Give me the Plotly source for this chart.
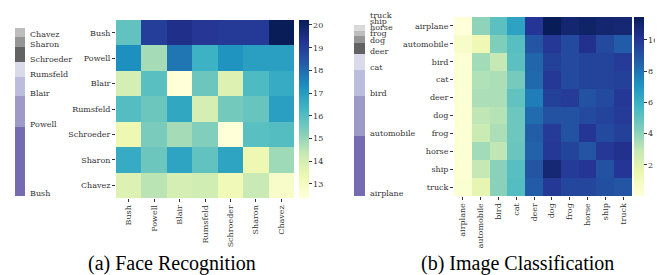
import plotly.graph_objects as go

W, H = 663, 275

# ---------------- data ----------------
face_names = ["Bush", "Powell", "Blair", "Rumsfeld", "Schroeder", "Sharon", "Chavez"]
face_counts = [530, 236, 144, 121, 109, 77, 71]
face_matrix = [
    [15.8, 19.0, 19.4, 19.2, 19.1, 19.1, 20.2],
    [17.3, 14.8, 17.8, 16.4, 17.2, 16.9, 16.9],
    [14.0, 15.9, 12.4, 15.6, 13.8, 16.1, 16.6],
    [16.0, 15.6, 16.7, 14.0, 15.5, 15.7, 16.9],
    [13.3, 15.4, 14.8, 15.3, 12.4, 15.9, 16.0],
    [16.6, 15.6, 16.8, 15.8, 16.8, 13.3, 14.9],
    [13.8, 14.5, 14.0, 14.1, 13.2, 14.3, 12.8],
]
face_zrange = [12.38, 20.22]
face_ticks = [13, 14, 15, 16, 17, 18, 19, 20]

cifar_names = ["airplane", "automobile", "bird", "cat", "deer", "dog", "frog", "horse", "ship", "truck"]
cifar_share = [35.0, 23.4, 15.2, 9.4, 6.4, 4.0, 3.0, 2.5, 0.6, 0.4]
cifar_matrix = [
    [0.0, 4.0, 5.1, 6.5, 10.0, 11.5, 10.9, 11.1, 10.9, 10.8],
    [0.6, 1.3, 4.3, 5.2, 8.9, 9.9, 9.3, 10.2, 9.3, 8.7],
    [0.2, 3.6, 2.9, 5.1, 8.4, 9.6, 9.3, 9.5, 9.5, 9.8],
    [0.2, 3.3, 3.4, 4.5, 8.3, 9.9, 9.3, 9.5, 9.5, 9.6],
    [0.2, 3.4, 3.4, 5.0, 7.7, 9.6, 9.8, 9.0, 9.3, 9.9],
    [0.2, 3.0, 3.2, 4.7, 8.2, 9.0, 9.0, 9.3, 9.5, 9.8],
    [0.2, 2.7, 3.4, 4.7, 8.6, 9.8, 9.0, 10.0, 9.3, 9.6],
    [0.2, 3.6, 3.0, 4.8, 8.5, 9.9, 9.5, 8.9, 9.9, 10.2],
    [0.2, 2.9, 4.1, 5.2, 8.9, 10.8, 9.8, 10.0, 9.0, 10.0],
    [0.3, 1.7, 4.1, 5.3, 8.7, 9.9, 9.4, 9.4, 9.1, 8.9],
]
cifar_zrange = [0.0, 11.47]
cifar_ticks = [2, 4, 6, 8, 10]

bar_colors = ["#756bb1", "#9e9ac8", "#bcbddc", "#dadaeb", "#636363",
              "#969696", "#bdbdbd", "#d9d9d9", "#d9d9d9", "#d9d9d9"]

ylgnbu = [[0.0, "#ffffd9"], [0.125, "#edf8b1"], [0.25, "#c7e9b4"], [0.375, "#7fcdbb"],
          [0.5, "#41b6c4"], [0.625, "#1d91c0"], [0.75, "#225ea8"], [0.875, "#253494"],
          [1.0, "#081d58"]]

SERIF = "'DejaVu Serif', 'Liberation Serif', serif"
TIMES = "'Liberation Serif', 'Times New Roman', serif"
TICK_FONT = dict(family=SERIF, size=8, color="#333333")


def px_x(a, b):
    return [a / W, b / W]


def px_y(top, bottom):
    return [1 - bottom / H, 1 - top / H]


fig = go.Figure()
annotations = []


def add_stack(shares, names, xa, ya, top_px, bot_px, label_x, gap):
    total = sum(shares)
    cum = 0.0
    label_px = []
    for i, (s, n) in enumerate(zip(shares, names)):
        fig.add_trace(go.Bar(x=[0], y=[s], base=[cum], marker=dict(color=bar_colors[i], line=dict(width=0)),
                             width=1, xaxis=xa, yaxis=ya, showlegend=False, hoverinfo="skip"))
        bottom = bot_px - cum / total * (bot_px - top_px)
        lp = bottom - 2.5
        if label_px:
            lp = min(lp, label_px[-1] - gap)
        label_px.append(lp)
        cum += s
    for n, lp in zip(names, label_px):
        annotations.append(dict(text=n, x=label_x / W, y=1 - lp / H, xref="paper", yref="paper",
                                xanchor="left", yanchor="middle", showarrow=False, font=TICK_FONT,
                                borderpad=0))
    return total


def add_heat(z, names, zr, ticks, xa, ya, cb_x, cb_top, cb_bot, cb_w):
    fig.add_trace(go.Heatmap(
        z=z, x=names, y=names, xaxis=xa, yaxis=ya, colorscale=ylgnbu, zmin=zr[0], zmax=zr[1],
        xgap=0, ygap=0, hoverinfo="skip",
        colorbar=dict(x=cb_x / W, xanchor="left", y=1 - cb_top / H, yanchor="top",
                      len=(cb_bot - cb_top) / H, lenmode="fraction", thickness=cb_w,
                      thicknessmode="pixels", outlinewidth=0, tickvals=ticks,
                      ticks="outside", ticklen=3, tickcolor="#333333", tickwidth=1,
                      tickfont=TICK_FONT, xpad=0, ypad=0, ticklabeloverflow="allow")))


# left stacked bar (face)
ft = add_stack(face_counts, face_names, "x", "y", 20, 188, 21, 9)
# left heatmap
add_heat(face_matrix, face_names, face_zrange, face_ticks, "x2", "y2", 291, 12, 190, 10)
# right stacked bar (cifar)
ct = add_stack(cifar_share, cifar_names, "x3", "y3", 17, 188, 361, 6)
# right heatmap
add_heat(cifar_matrix, cifar_names, cifar_zrange, cifar_ticks, "x4", "y4", 626, 9, 188, 10)

hidden = dict(visible=False, fixedrange=True)
heat_x = dict(tickangle=-90, ticks="outside", ticklen=3, tickcolor="#333333", tickfont=TICK_FONT,
              showgrid=False, zeroline=False, showline=False)
heat_y = dict(autorange="reversed", ticks="outside", ticklen=3, tickcolor="#333333", tickfont=TICK_FONT,
              showgrid=False, zeroline=False, showline=False)

fig.update_layout(
    width=W, height=H, margin=dict(l=0, r=0, t=0, b=0, autoexpand=False),
    font=dict(family=SERIF),
    paper_bgcolor="white", plot_bgcolor="white", barmode="overlay", bargap=0,
    xaxis=dict(domain=px_x(7, 17), range=[-0.5, 0.5], **hidden),
    yaxis=dict(domain=px_y(20, 188), range=[0, ft], **hidden),
    xaxis2=dict(domain=px_x(108, 286), anchor="y2", **heat_x),
    yaxis2=dict(domain=px_y(12, 190), anchor="x2", **heat_y),
    xaxis3=dict(domain=px_x(346, 357), range=[-0.5, 0.5], anchor="y3", **hidden),
    yaxis3=dict(domain=px_y(17, 188), range=[0, ct], anchor="x3", **hidden),
    xaxis4=dict(domain=px_x(446, 624), anchor="y4", **heat_x),
    yaxis4=dict(domain=px_y(9, 188), anchor="x4", **heat_y),
)

cap_font = dict(family=TIMES, size=20, color="black")
annotations.append(dict(text="(a) Face Recognition", x=164 / W, y=1 - 255 / H, xref="paper", yref="paper",
                        xanchor="center", yanchor="middle", showarrow=False, font=cap_font))
annotations.append(dict(text="(b) Image Classification", x=509 / W, y=1 - 255 / H, xref="paper", yref="paper",
                        xanchor="center", yanchor="middle", showarrow=False, font=cap_font))
fig.update_layout(annotations=annotations)

fig.write_html("out.html")
